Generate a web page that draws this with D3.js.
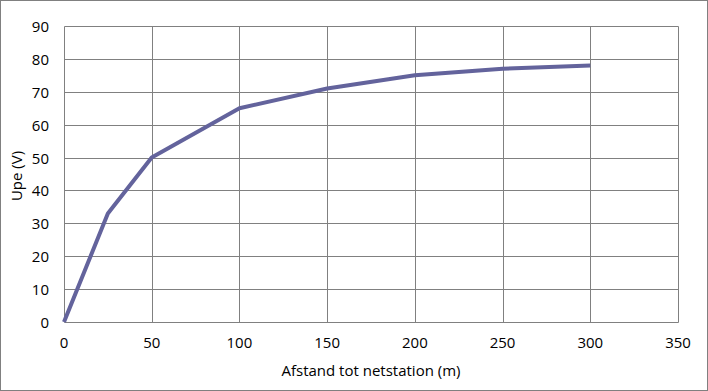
<!DOCTYPE html>
<html>
<head>
<meta charset="utf-8">
<script src="https://cdn.jsdelivr.net/npm/d3@7"></script>
<style>
  body { margin: 0; background: #fff; }
  text { font-family: "Open Sans", sans-serif; fill: #000; }
</style>
</head>
<body>
<svg id="chart" width="708" height="391"></svg>
<script>
// data
var distances = [0, 25, 50, 100, 150, 200, 250, 300];
var upeValues = [0, 33, 50, 65, 71, 75, 77, 78];
var xTicks = [0, 50, 100, 150, 200, 250, 300, 350];
var yTicks = [0, 10, 20, 30, 40, 50, 60, 70, 80, 90];

var svg = d3.select("#chart");

// outer frame
svg.append("rect")
  .attr("x", 0.5).attr("y", 0.5)
  .attr("width", 707).attr("height", 390)
  .attr("fill", "#fff")
  .attr("stroke", "#808080");

var plotLeft = 64, plotRight = 678, plotTop = 26, plotBottom = 322;

var x = d3.scaleLinear().domain([0, 350]).range([plotLeft, plotRight]);
var y = d3.scaleLinear().domain([0, 90]).range([plotBottom, plotTop]);

// grid lines
svg.append("g").selectAll("line")
  .data(xTicks)
  .enter().append("line")
  .attr("x1", d => Math.round(x(d)) + 0.5)
  .attr("x2", d => Math.round(x(d)) + 0.5)
  .attr("y1", plotTop + 0.5)
  .attr("y2", plotBottom + 0.5)
  .attr("stroke", "#808080");

svg.append("g").selectAll("line")
  .data(yTicks)
  .enter().append("line")
  .attr("x1", plotLeft + 0.5)
  .attr("x2", plotRight + 0.5)
  .attr("y1", d => Math.round(y(d)) + 0.5)
  .attr("y2", d => Math.round(y(d)) + 0.5)
  .attr("stroke", "#808080");

// tick labels
svg.append("g").selectAll("text")
  .data(yTicks)
  .enter().append("text")
  .attr("x", 49)
  .attr("y", d => y(d) + 6)
  .attr("text-anchor", "end")
  .style("font-size", "15px")
  .text(d => d);

svg.append("g").selectAll("text")
  .data(xTicks)
  .enter().append("text")
  .attr("x", d => x(d))
  .attr("y", 348)
  .attr("text-anchor", "middle")
  .style("font-size", "15px")
  .text(d => d);

// axis titles
svg.append("text")
  .attr("x", 371)
  .attr("y", 376)
  .attr("text-anchor", "middle")
  .style("font-size", "15px")
  .text("Afstand tot netstation (m)");

svg.append("text")
  .attr("transform", "translate(22," + ((plotTop + plotBottom) / 2 + 2) + ") rotate(-90)")
  .attr("text-anchor", "middle")
  .style("font-size", "15px")
  .text("Upe (V)");

// the line
var line = d3.line()
  .x((d, i) => x(distances[i]))
  .y(d => y(d));

svg.append("path")
  .datum(upeValues)
  .attr("d", line)
  .attr("fill", "none")
  .attr("stroke", "#63639c")
  .attr("stroke-width", 4)
  .attr("stroke-linejoin", "round");
</script>
</body>
</html>
